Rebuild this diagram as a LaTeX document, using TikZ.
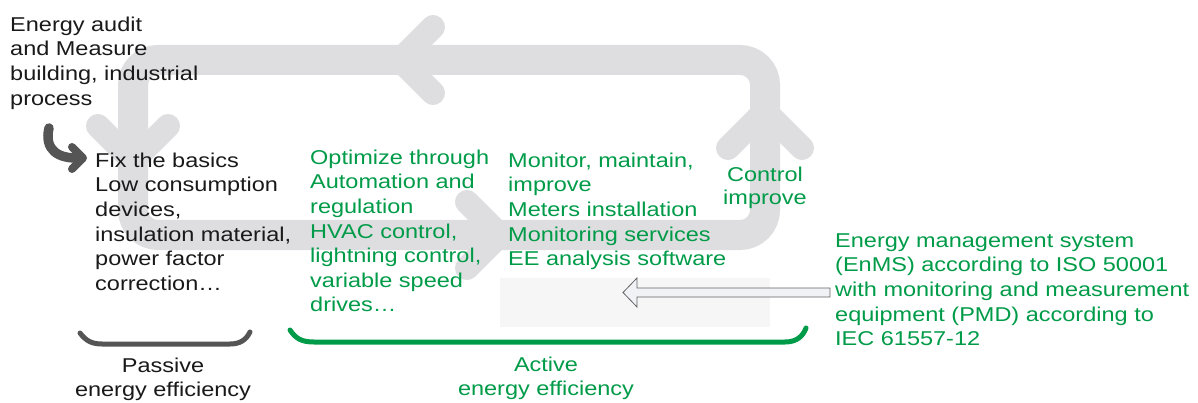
\documentclass[tikz,border=0pt]{standalone}
\usepackage{fontspec}
\setmainfont{Liberation Sans}[FakeStretch=1.175]
\definecolor{band}{RGB}{222,222,224}
\definecolor{eegreen}{RGB}{0,155,72}
\definecolor{dgray}{RGB}{85,85,85}
\definecolor{txt}{RGB}{25,25,25}
\definecolor{hollow}{RGB}{240,242,246}
\definecolor{hollowedge}{RGB}{100,100,100}
\definecolor{faint}{RGB}{246,246,247}
\tikzset{
  loopband/.style={draw=band, line width=30pt, rounded corners=25pt},
  chev/.style={draw=band, line width=24pt, line cap=round, line join=round},
  lbl/.style={inner sep=0pt, align=left, anchor=north west, font=\fontsize{20}{24.6}\selectfont, text=txt},
  glbl/.style={lbl, text=eegreen},
  clbl/.style={lbl, align=center, anchor=north},
  darkarr/.style={draw=dgray, line width=9.5pt, line cap=round, line join=round},
  brace/.style={line width=5pt, line cap=round},
}
\begin{document}
\begin{tikzpicture}[x=1pt,y=-1pt]
\useasboundingbox (0,0) rectangle (1198,403);
% grey cycle
\draw[loopband] (133,60) rectangle (765,235);
\draw[chev] (433,27) -- (400,60) -- (433,93);
\draw[chev] (98,126) -- (133,161) -- (168,126);
\draw[chev] (467,202) -- (500,235) -- (467,268);
\draw[chev] (728,148) -- (765,111) -- (802,148);
% faint panel
\fill[faint] (500,278) rectangle (770,327);
% texts
\node[lbl] (audit) at (10,13.8) {\strut Energy audit\\and Measure\\building, industrial\\process};
\node[lbl] (fix) at (95,149.8) {\strut Fix the basics\\Low consumption\\devices,\\insulation material,\\power factor\\correction…};
\node[glbl] (optim) at (310,146.8) {\strut Optimize through\\Automation and\\regulation\\HVAC control,\\lightning control,\\variable speed\\drives…};
\node[glbl] (monitor) at (508,149.8) {\strut Monitor, maintain,\\improve\\Meters installation\\Monitoring services\\EE analysis software};
\node[clbl, text=eegreen, font=\fontsize{20}{23.5}\selectfont] (control) at (765,164.8) {\strut Control\\improve};
\node[glbl] (enms) at (835,229.8) {\strut Energy management system\\(EnMS) according to ISO 50001\\with monitoring and measurement\\equipment (PMD) according to\\IEC 61557-12};
\node[clbl, font=\fontsize{20}{24}\selectfont] (passive) at (163,355.8) {\strut Passive\\energy efficiency};
\node[clbl, text=eegreen, font=\fontsize{20}{24}\selectfont] (active) at (546,354.8) {\strut Active\\energy efficiency};
% dark curved arrow from audit text to fix text
\coordinate (darkStart) at (49,128);
\coordinate (darkEnd) at (80,158);
\draw[darkarr] (darkStart) .. controls (44,150) and (58,159) .. (darkEnd);
\draw[darkarr, line width=8pt] (72,147) -- (83,158) -- (72,169);
% brackets
\draw[brace, dgray] (80,333) .. controls (86,341) and (92,344) .. (102,344) -- (230,344) .. controls (240,344) and (246,340) .. (250,332);
\draw[brace, eegreen] (290,330) .. controls (296,339) and (302,342) .. (314,342) -- (785,342) .. controls (797,342) and (803,336) .. (806,328);
% hollow arrow from EnMS text
\coordinate (enmsTip) at (623,292.5);
\draw[fill=hollow, draw=hollowedge, line width=0.8pt] (830,288) -- (637,288) -- (637,278) -- (enmsTip) -- (637,307) -- (637,297) -- (830,297) -- cycle;
\end{tikzpicture}
\end{document}
